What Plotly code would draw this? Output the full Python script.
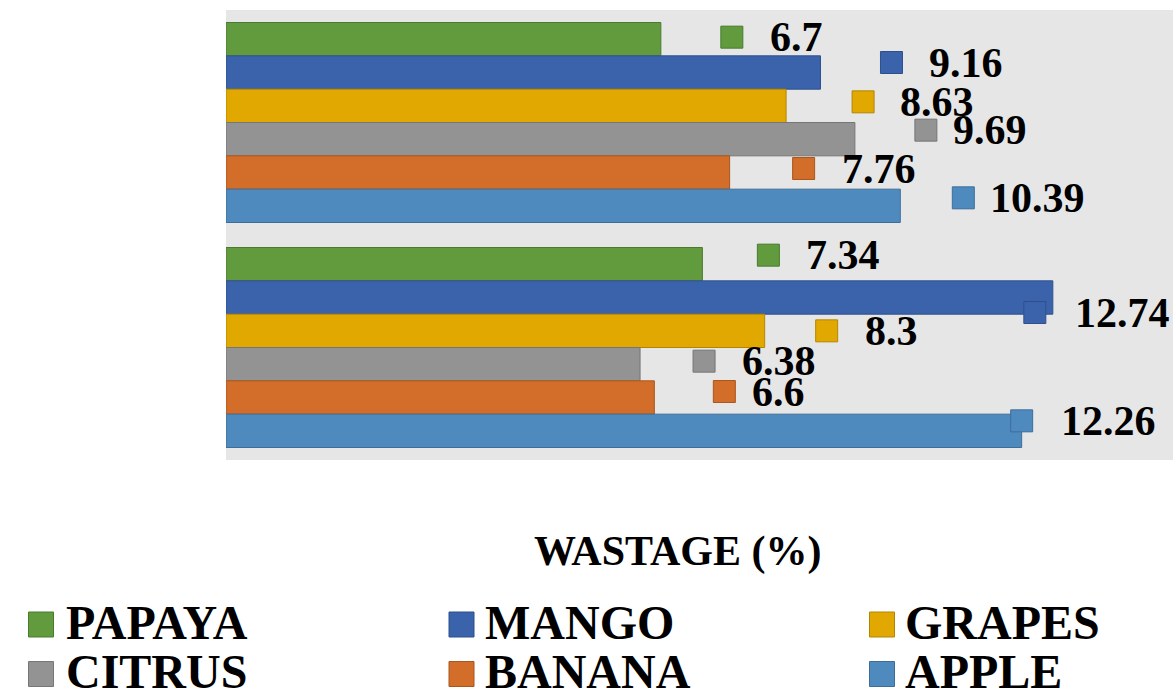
import plotly.graph_objects as go

# ---------------- data ----------------
groups = [0, 1]                      # two unlabeled groups (top, bottom)
series = ["PAPAYA", "MANGO", "GRAPES", "CITRUS", "BANANA", "APPLE"]
papaya = [6.7, 7.34]
mango = [9.16, 12.74]
grapes = [8.63, 8.3]
citrus = [9.69, 6.38]
banana = [7.76, 6.6]
apple = [10.39, 12.26]
values = [papaya, mango, grapes, citrus, banana, apple]
axis_title = "WASTAGE (%)"

# ---------------- styles ----------------
fill_colors = ["#619B3E", "#3B63AC", "#E0A800", "#939393", "#D36D2A", "#4F8ABF"]
edge_colors = ["#4A7A2E", "#2E4F8C", "#B38600", "#767676", "#A9561F", "#3D6E9A"]
FONT = "Times New Roman, Liberation Serif, serif"

W, H = 1173, 699
L, R, T, B = 226, 0, 10, 239
PW, PH = W - L - R, H - T - B
BAR_PX = 200 / 6.0

# data-label placement tweaks in pixels (marker centre relative to bar end / bar centre, +down)
label_dx = [[71, 66], [71, -18], [77, 62], [71, 64], [74, 70], [63, 0]]
label_dy = [[-2, -9], [-10, 15], [-4, 0], [-9, -3], [-4, -6], [-8, -10]]
label_gap = [[27, 27], [27, 29], [26, 27], [16, 27], [27, 17], [16, 28]]

fig = go.Figure()
for i, name in enumerate(series):
    fig.add_trace(go.Bar(
        y=groups, x=values[i], name=name, orientation="h",
        marker=dict(color=fill_colors[i], line=dict(color=edge_colors[i], width=1)),
        showlegend=False, hoverinfo="x+name",
    ))

shapes = []
annotations = []
for i, name in enumerate(series):
    for j, g in enumerate(groups):
        v = values[i][j]
        down = (i - 2.5) * BAR_PX + label_dy[i][j]
        up = -down
        dx = label_dx[i][j]
        shapes.append(dict(
            type="rect", xref="x", yref="y", xsizemode="pixel", ysizemode="pixel",
            xanchor=v, yanchor=g, x0=dx - 11, x1=dx + 11, y0=up - 11, y1=up + 11,
            fillcolor=fill_colors[i], line=dict(color=edge_colors[i], width=1), layer="above",
        ))
        annotations.append(dict(
            x=v, y=g, xref="x", yref="y", text=f"<b>{v:g}</b>", showarrow=False,
            xanchor="left", yanchor="middle", xshift=dx + 10 + label_gap[i][j], yshift=up,
            borderpad=0, font=dict(family=FONT, size=42, color="#000000"),
        ))

def px_x(px):
    return (px - L) / PW

def px_y(py):
    return (T + PH - py) / PH

# axis title
annotations.append(dict(
    x=px_x(677), y=px_y(551), xref="paper", yref="paper", text=f"<b>{axis_title}</b>",
    showarrow=False, xanchor="center", yanchor="middle", borderpad=0,
    font=dict(family=FONT, size=42, color="#000000"),
))

# legend (3 columns x 2 rows)
col_marker = [41, 461.5, 882]
col_text = [65, 484, 904]
row_marker = [624.5, 674]
row_text = [622, 671]
for i, name in enumerate(series):
    r, c = divmod(i, 3)
    shapes.append(dict(
        type="rect", xref="paper", yref="paper", xsizemode="pixel", ysizemode="pixel",
        xanchor=px_x(col_marker[c]), yanchor=px_y(row_marker[r]),
        x0=-12.5, x1=12.5, y0=-12.5, y1=12.5,
        fillcolor=fill_colors[i], line=dict(color=edge_colors[i], width=1),
    ))
    annotations.append(dict(
        x=px_x(col_text[c]), y=px_y(row_text[r]), xref="paper", yref="paper",
        text=f"<b>{name}</b>", showarrow=False, xanchor="left", yanchor="middle", borderpad=0,
        font=dict(family=FONT, size=48, color="#000000"),
    ))

fig.update_layout(
    width=W, height=H,
    margin=dict(l=L, r=R, t=T, b=B, pad=0),
    paper_bgcolor="#FFFFFF", plot_bgcolor="#E6E6E6",
    barmode="group", bargap=1 - 200 / 225.0, bargroupgap=0,
    shapes=shapes, annotations=annotations,
    showlegend=False,
    font=dict(family=FONT, color="#000000"),
)
fig.update_xaxes(range=[0, PW / 64.9], showgrid=False, zeroline=False,
                 showticklabels=False, ticks="", showline=False, fixedrange=True)
fig.update_yaxes(range=[1.5, -0.5], showgrid=False, zeroline=False,
                 showticklabels=False, ticks="", showline=False, fixedrange=True)

fig.write_html("out.html")
